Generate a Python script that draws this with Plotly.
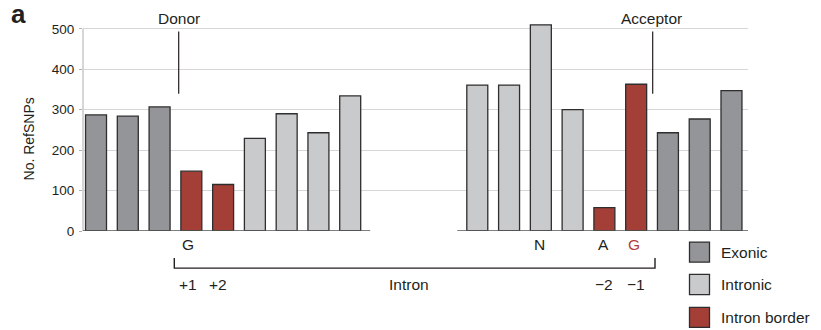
import plotly.graph_objects as go

# ---- data ----
donor_labels = ["-3", "-2", "-1", "+1", "+2", "+3", "+4", "+5", "+6"]
donor_values = [287, 284, 307, 148, 115, 229, 290, 243, 334]
donor_types = ["Exonic", "Exonic", "Exonic", "Intron border", "Intron border",
               "Intronic", "Intronic", "Intronic", "Intronic"]

acceptor_labels = ["-6", "-5", "-4", "-3", "-2", "-1", "+1", "+2", "+3"]
acceptor_values = [361, 361, 510, 300, 58, 363, 243, 277, 347]
acceptor_types = ["Intronic", "Intronic", "Intronic", "Intronic", "Intron border",
                  "Intron border", "Exonic", "Exonic", "Exonic"]

region_names = ["Exonic", "Intronic", "Intron border"]
y_ticks = [0, 100, 200, 300, 400, 500]

# ---- styling ----
colors = {"Exonic": "#939598", "Intronic": "#c9cacc", "Intron border": "#a33f37"}
FONT = "Liberation Sans, Arial, Helvetica, sans-serif"
TXT = "#231f20"
RED = "#b0413a"
GAP_SLOTS = 3
Y_MAX = 512
LBL = 15.5

# positions: donor group, then a gap, then acceptor group
donor_pos = list(range(len(donor_values)))
acceptor_pos = [len(donor_values) + GAP_SLOTS + i for i in range(len(acceptor_values))]

all_pos = donor_pos + acceptor_pos
all_vals = donor_values + acceptor_values
all_types = donor_types + acceptor_types

fig = go.Figure()
for name in region_names:
    xs = [p for p, t in zip(all_pos, all_types) if t == name]
    ys = [v for v, t in zip(all_vals, all_types) if t == name]
    fig.add_trace(go.Bar(
        x=xs, y=ys, name=name, width=0.66,
        marker=dict(color=colors[name], line=dict(color="#2e2e2e", width=1.3)),
        showlegend=False, hoverinfo="skip",
    ))

# plot-area geometry in pixels
W, H = 821, 330
L, R = 83, 748
B = 230.7
T = B - (B - 29.3) * Y_MAX / 500.0


def px_x(p):
    return (p - L) / (R - L)


def px_y(p):
    return (B - p) / (B - T)


ann = []
shapes = []


def label(text, x, y, size=LBL, color=TXT, xref="paper", xanchor="center", **kw):
    ann.append(dict(text=text, x=x, y=y, xref=xref, yref="paper", showarrow=False,
                    xanchor=xanchor, yanchor="middle",
                    font=dict(size=size, family=FONT, color=color), **kw))


# left axis line (only up to 500)
shapes.append(dict(type="line", xref="paper", yref="y", x0=0, x1=0, y0=0, y1=y_ticks[-1],
                   line=dict(color="#c8c8c8", width=1.5)))

# panel letter and y title
label("<b>a</b>", px_x(18.5), px_y(15), size=26)
label("No. RefSNPs", px_x(28.5), px_y(139), size=14, textangle=-90)

# Donor / Acceptor labels with pointers
for text, cx, lx in [("Donor", 179, 178.7), ("Acceptor", 651, 652.7)]:
    label(text, px_x(cx), px_y(19))
    shapes.append(dict(type="line", xref="paper", yref="paper",
                       x0=px_x(lx), x1=px_x(lx), y0=px_y(32), y1=px_y(94),
                       line=dict(color="#231f20", width=1.2)))

# nucleotide letters under bars
nuc = [("G", donor_pos[3], TXT, -3), ("N", acceptor_pos[2], TXT, -1),
       ("A", acceptor_pos[4], TXT, -1), ("G", acceptor_pos[5], RED, -2)]
for t, p, c, sh in nuc:
    label(t, p, px_y(244), color=c, xref="x", xshift=sh)

# position labels below bracket
pos_labels = [("+1", donor_pos[3], -3), ("+2", donor_pos[4], -5),
              ("\u22122", acceptor_pos[4], 0), ("\u22121", acceptor_pos[5], 0)]
for t, p, sh in pos_labels:
    label(t, p, px_y(284), xref="x", xshift=sh)
label("Intron", px_x(408.5), px_y(284))

# bracket
bl, br, bt, bb = 174.3, 655, 257.5, 267.7
shapes.append(dict(type="path", xref="paper", yref="paper",
                   path=f"M {px_x(bl)} {px_y(bt)} L {px_x(bl)} {px_y(bb)} L {px_x(br)} {px_y(bb)} L {px_x(br)} {px_y(bt)}",
                   line=dict(color="#231f20", width=1.4)))

# baselines for the two groups
shapes.append(dict(type="line", xref="x", yref="y", x0=donor_pos[0] - 0.5, x1=donor_pos[-1] + 0.63,
                   y0=0, y1=0, line=dict(color="#555555", width=1.6), layer="above"))
shapes.append(dict(type="line", xref="x", yref="y", x0=acceptor_pos[0] - 0.63, x1=acceptor_pos[-1] + 0.52,
                   y0=0, y1=0, line=dict(color="#555555", width=1.6), layer="above"))

# legend
legend_top = [241.7, 274.0, 306.7]
for name, top in zip(region_names, legend_top):
    shapes.append(dict(type="rect", xref="paper", yref="paper",
                       x0=px_x(689.5), x1=px_x(709.5), y0=px_y(top + 20), y1=px_y(top),
                       fillcolor=colors[name], line=dict(color="#2e2e2e", width=1.3)))
    label(name, px_x(718.5), px_y(top + 10.5), xanchor="left")

fig.update_layout(
    width=W, height=H,
    margin=dict(l=L, r=W - R, t=T, b=H - B, pad=0, autoexpand=False),
    paper_bgcolor="white", plot_bgcolor="white",
    barmode="overlay",
    xaxis=dict(range=[-0.41, acceptor_pos[-1] + 0.52], showgrid=False, zeroline=False,
               showticklabels=False, ticks="", showline=False),
    yaxis=dict(range=[0, Y_MAX], tickvals=y_ticks, showgrid=True, gridcolor="#d6d6d6", gridwidth=1.2,
               zeroline=True, zerolinecolor="rgba(0,0,0,0)", showline=False,
               ticks="outside", ticklen=3, tickcolor="#b0b0b0", ticklabelstandoff=2,
               tickfont=dict(size=13.5, family=FONT, color=TXT)),
    annotations=ann, shapes=shapes,
)

fig.write_html("out.html", config={"displayModeBar": False},
               post_script="document.body.style.margin='0';")
